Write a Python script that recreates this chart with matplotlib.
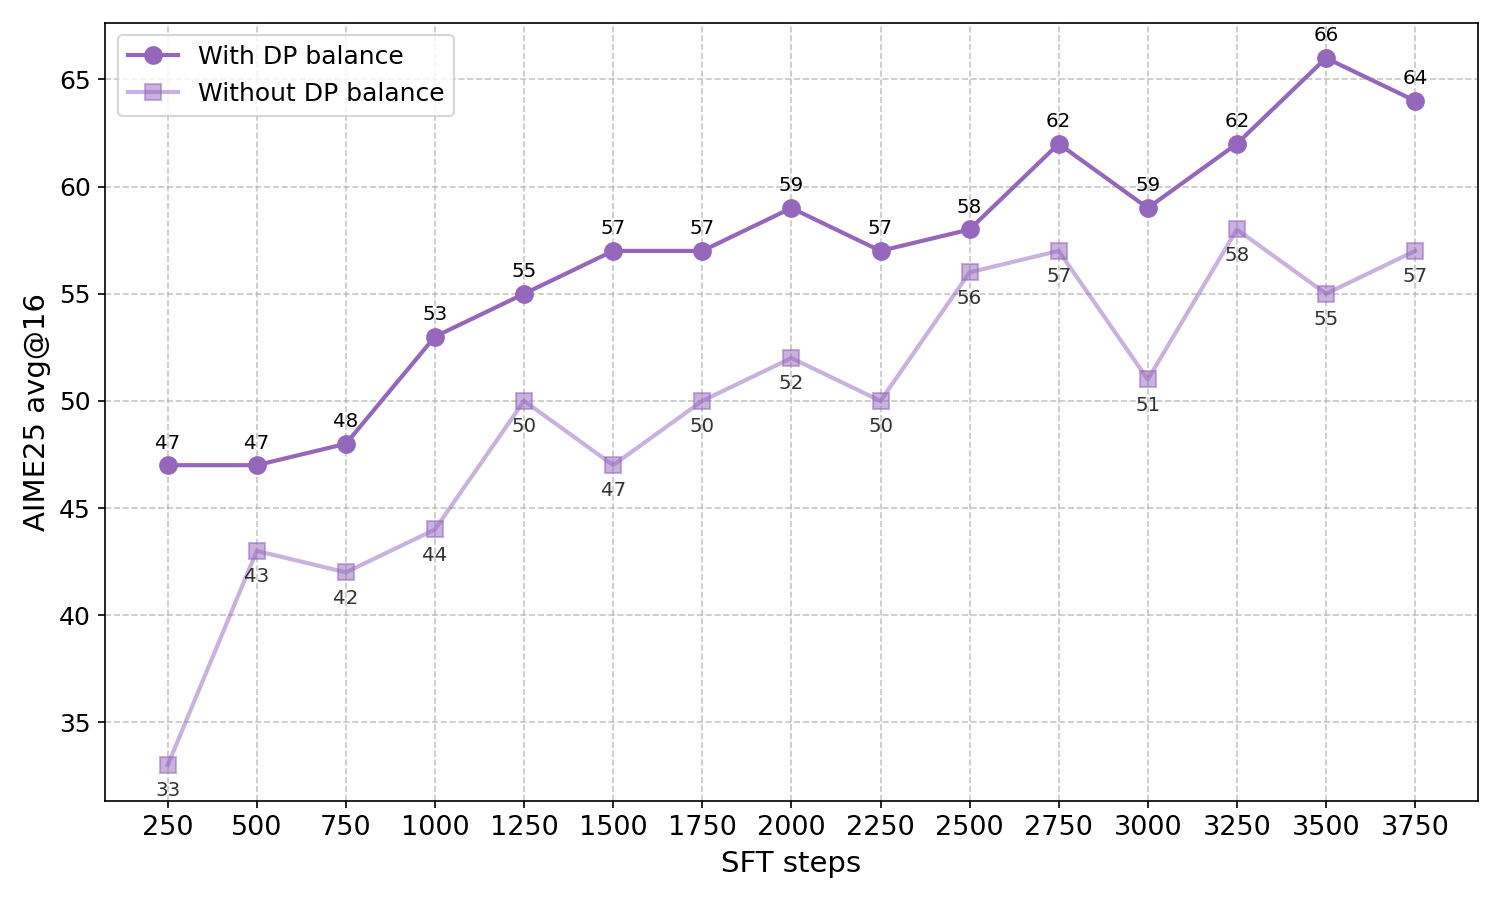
import matplotlib
matplotlib.use('Agg')
import matplotlib.pyplot as plt

# data
steps = [250, 500, 750, 1000, 1250, 1500, 1750, 2000, 2250, 2500, 2750, 3000, 3250, 3500, 3750]
with_dp = [47, 47, 48, 53, 55, 57, 57, 59, 57, 58, 62, 59, 62, 66, 64]
without_dp = [33, 43, 42, 44, 50, 47, 50, 52, 50, 56, 57, 51, 58, 55, 57]

color = '#9467bd'

fig, ax = plt.subplots(figsize=(10, 6), dpi=150)

ax.plot(steps, with_dp, marker='o', color=color, linewidth=2, markersize=8,
        label='With DP balance')
ax.plot(steps, without_dp, marker='s', color=color, linewidth=2, markersize=8,
        alpha=0.5, label='Without DP balance')

# value labels
for x, y in zip(steps, with_dp):
    ax.annotate(str(y), (x, y), textcoords='offset points', xytext=(0, 8),
                ha='center', fontsize=9.5)
for x, y in zip(steps, without_dp):
    ax.annotate(str(y), (x, y), textcoords='offset points', xytext=(0, -15),
                ha='center', fontsize=9.5, alpha=0.8)

ax.set_xticks(steps)
ax.set_xlabel('SFT steps', fontsize=14)
ax.set_ylabel('AIME25 avg@16', fontsize=14)
ax.tick_params(axis='x', labelsize=13)
ax.tick_params(axis='y', labelsize=12)
ax.grid(True, linestyle='--', alpha=0.7)
ax.legend(loc='upper left', fontsize=12)

plt.tight_layout()
plt.savefig('out.png', dpi=150)
